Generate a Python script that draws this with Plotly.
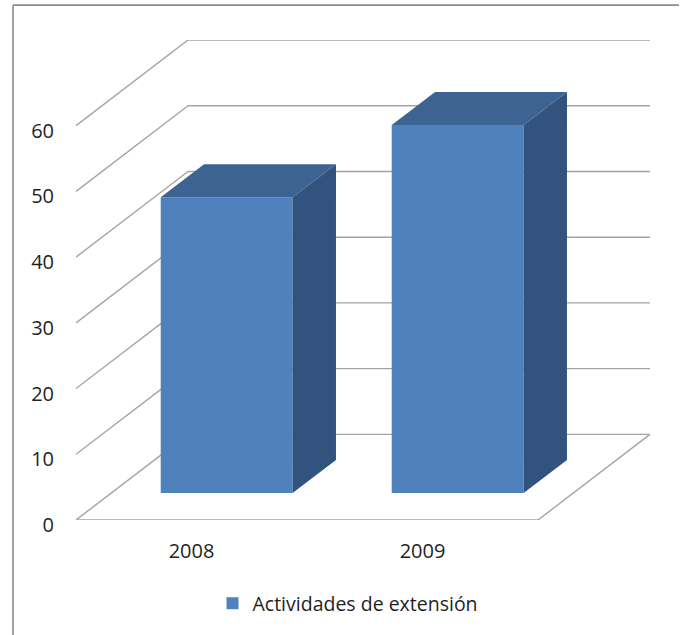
import plotly.graph_objects as go

# ---- data ----
categories = ["2008", "2009"]
values = [45, 56]
series_name = "Actividades de extensión"
y_ticks = [0, 10, 20, 30, 40, 50, 60]

# ---- pseudo-3D geometry (oblique projection) ----
PX_PER_CAT = 231.0
PX_PER_VAL = 6.6
DXC = 112.0 / PX_PER_CAT      # full-depth shift in category units
DYV = 86.0 / PX_PER_VAL       # full-depth shift in value units
T1, T2 = 27.0 / 86.0, 60.3 / 86.0   # bar front / back depth
BAR_W = 0.571
N = len(categories)
X_MAX = 574.0 / PX_PER_CAT
Y_MAX = max(y_ticks) + DYV


def proj(x, v, t):
    return x + t * DXC, v + t * DYV


FRONT = "#4F81BD"
TOP = "#3C6391"
SIDE = "#31537E"
GRID = "#a3a3a3"

fig = go.Figure()
shapes = []

# walls / floor gridlines
for v in y_ticks:
    x0, y0 = proj(0, v, 0)
    x1, y1 = proj(0, v, 1)
    x2, y2 = proj(N, v, 1)
    shapes.append(dict(type="line", x0=x0, y0=y0, x1=x1, y1=y1, layer="below",
                       line=dict(color=GRID, width=1.4)))
    shapes.append(dict(type="line", x0=x1, y0=y1, x1=x2, y1=y2, layer="below",
                       line=dict(color=GRID, width=1.4)))
# floor front and right edges
fx0, fy0 = proj(0, 0, 0)
fx1, fy1 = proj(N, 0, 0)
fx2, fy2 = proj(N, 0, 1)
shapes.append(dict(type="line", x0=fx0, y0=fy0, x1=fx1, y1=fy1, layer="below",
                   line=dict(color=GRID, width=1.4)))
shapes.append(dict(type="line", x0=fx1, y0=fy1, x1=fx2, y1=fy2, layer="below",
                   line=dict(color=GRID, width=1.4)))


# chart-area border (top and left)
def px_to_paper_x(px):
    return (px - 76) / 574.0


def px_to_paper_y(py):
    return (522 - py) / 482.0


BORDER = "#8c8c8c"
shapes.append(dict(type="line", xref="paper", yref="paper",
                   x0=px_to_paper_x(13), x1=px_to_paper_x(679),
                   y0=px_to_paper_y(5), y1=px_to_paper_y(5),
                   line=dict(color=BORDER, width=1.6)))
shapes.append(dict(type="line", xref="paper", yref="paper",
                   x0=px_to_paper_x(13), x1=px_to_paper_x(13),
                   y0=px_to_paper_y(5), y1=px_to_paper_y(640),
                   line=dict(color=BORDER, width=1.6)))

# bar side and top faces
for i, v in enumerate(values):
    xc = i + 0.5
    xl, xr = xc - BAR_W / 2, xc + BAR_W / 2
    side = [proj(xr, 0, T1), proj(xr, v, T1), proj(xr, v, T2), proj(xr, 0, T2)]
    fig.add_trace(go.Scatter(x=[p[0] for p in side], y=[p[1] for p in side],
                             fill="toself", fillcolor=SIDE, mode="lines",
                             line=dict(width=0, color=SIDE), hoverinfo="skip",
                             showlegend=False))
    top = [proj(xl, v, T1), proj(xr, v, T1), proj(xr, v, T2), proj(xl, v, T2)]
    fig.add_trace(go.Scatter(x=[p[0] for p in top], y=[p[1] for p in top],
                             fill="toself", fillcolor=TOP, mode="lines",
                             line=dict(width=0, color=TOP), hoverinfo="skip",
                             showlegend=False))

# front faces as real bars
fig.add_trace(go.Bar(
    x=[i + 0.5 + T1 * DXC for i in range(N)],
    y=values,
    base=[T1 * DYV] * N,
    width=[BAR_W] * N,
    marker=dict(color=FRONT, line=dict(width=0)),
    name=series_name,
    showlegend=True,
))

FONT = "Open Sans"
TXT = "#1f1f1f"
fig.update_layout(
    width=682, height=635, autosize=False,
    margin=dict(l=76, r=32, t=40, b=113),
    paper_bgcolor="white", plot_bgcolor="white",
    font=dict(family=FONT, size=20, color=TXT),
    shapes=shapes,
    showlegend=True,
    legend=dict(orientation="h", x=px_to_paper_x(348), xanchor="center",
                y=px_to_paper_y(606), yanchor="middle",
                font=dict(family=FONT, size=19.5, color=TXT)),
    xaxis=dict(range=[0, X_MAX], showgrid=False, zeroline=False, showline=False,
               tickvals=[i + 0.5 for i in range(N)], ticktext=categories,
               ticks="", ticklabelstandoff=17, fixedrange=True),
    yaxis=dict(range=[0, Y_MAX], showgrid=False, zeroline=False, showline=False,
               tickvals=y_ticks, ticktext=[str(t) for t in y_ticks],
               ticks="", ticklabelstandoff=21, ticklabelshift=5,
               fixedrange=True),
)

fig.write_html("out.html", config={"displayModeBar": False},
               post_script="document.body.style.margin='0';")
